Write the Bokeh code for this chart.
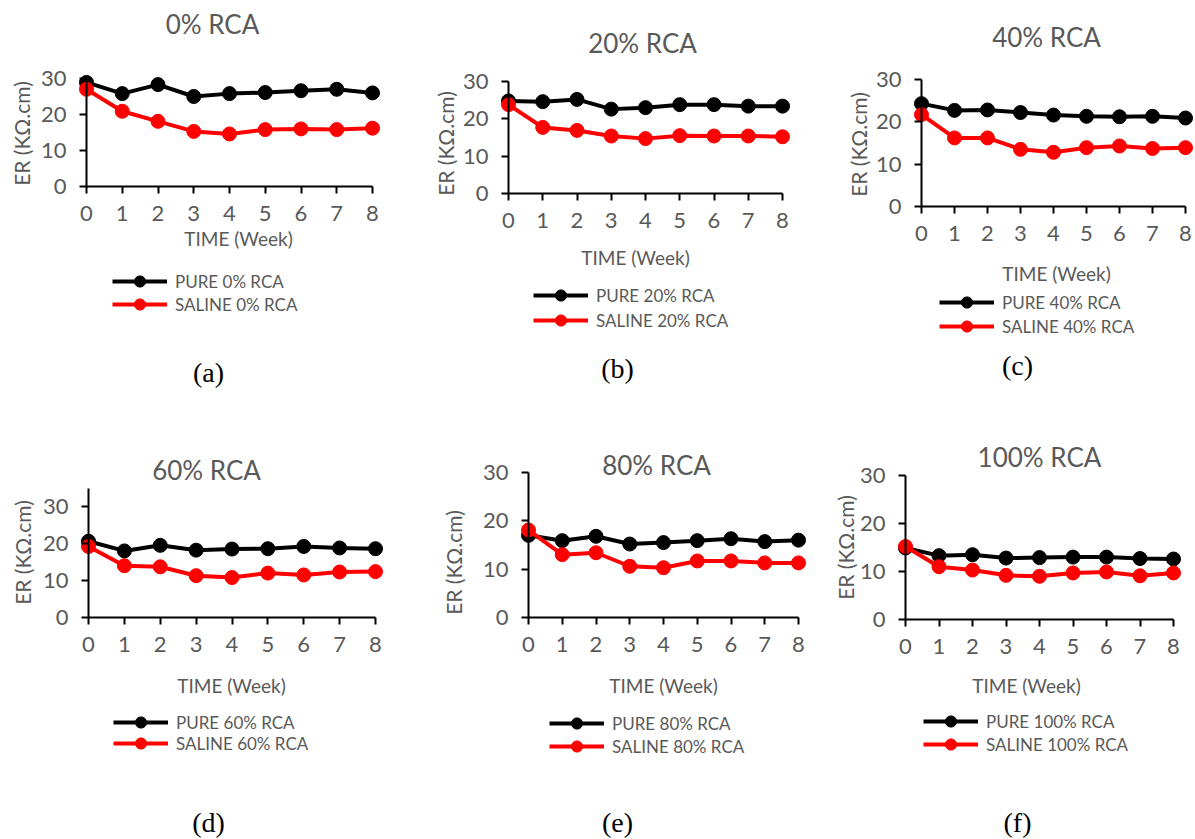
import math
from bokeh.plotting import figure
from bokeh.models import Range1d, FixedTicker, Label, Legend, LegendItem, LinearAxis
from bokeh.layouts import column, row
from bokeh.embed import file_html
from bokeh.resources import INLINE

# ---------------- data ----------------
weeks = [0, 1, 2, 3, 4, 5, 6, 7, 8]
y_ticks = [0, 10, 20, 30]
panel_titles = ["0% RCA", "20% RCA", "40% RCA", "60% RCA", "80% RCA", "100% RCA"]
captions = ["(a)", "(b)", "(c)", "(d)", "(e)", "(f)"]
legend_pure = ["PURE 0% RCA", "PURE 20% RCA", "PURE 40% RCA", "PURE 60% RCA", "PURE 80% RCA", "PURE 100% RCA"]
legend_saline = ["SALINE 0% RCA", "SALINE 20% RCA", "SALINE 40% RCA", "SALINE 60% RCA", "SALINE 80% RCA", "SALINE 100% RCA"]
x_title = "TIME (Week)"
y_title = "ER (KΩ.cm)"

pure_0 = [28.9, 25.8, 28.3, 25.0, 25.8, 26.1, 26.6, 27.0, 26.0]
saline_0 = [27.0, 20.9, 18.1, 15.3, 14.6, 15.8, 16.0, 15.8, 16.2]
pure_20 = [24.8, 24.6, 25.2, 22.6, 23.0, 23.8, 23.8, 23.4, 23.4]
saline_20 = [23.8, 17.7, 16.9, 15.4, 14.7, 15.5, 15.4, 15.4, 15.2]
pure_40 = [24.3, 22.7, 22.8, 22.2, 21.6, 21.3, 21.2, 21.3, 20.9]
saline_40 = [21.7, 16.2, 16.2, 13.5, 12.8, 13.9, 14.3, 13.7, 13.9]
pure_60 = [20.6, 18.0, 19.5, 18.2, 18.5, 18.6, 19.2, 18.8, 18.6]
saline_60 = [19.2, 14.0, 13.7, 11.3, 10.8, 12.0, 11.5, 12.3, 12.4]
pure_80 = [17.0, 15.9, 16.8, 15.2, 15.5, 15.9, 16.3, 15.7, 16.0]
saline_80 = [18.1, 13.0, 13.4, 10.6, 10.3, 11.7, 11.7, 11.3, 11.3]
pure_100 = [14.9, 13.3, 13.5, 12.8, 12.9, 13.0, 13.0, 12.7, 12.6]
saline_100 = [15.2, 11.0, 10.3, 9.2, 9.0, 9.7, 9.9, 9.1, 9.7]

pure_series = [pure_0, pure_20, pure_40, pure_60, pure_80, pure_100]
saline_series = [saline_0, saline_20, saline_40, saline_60, saline_80, saline_100]
y_axis_max = [30, 30, 30, 35, 30, 30]

# ---------------- layout (page pixel positions) ----------------
SANS = "Lato"
SERIF = "Liberation Serif"
GREY = "#595959"

COL_X = [0, 410, 820]
COL_W = [410, 410, 374]
ROW_Y = [0, 420]
ROW_H = [420, 418]

GEOM = [
    dict(X0=86, X8=372, Y0=186, Y30=78, title=(212, 23), ylab=(21, 133),
         time=(238, 238), leg=(112, 281, 304), cap=(208, 372)),
    dict(X0=508, X8=782, Y0=193, Y30=81, title=(642, 42), ylab=(445, 143),
         time=(635, 257), leg=(533, 295, 320), cap=(617, 368)),
    dict(X0=921, X8=1185, Y0=206, Y30=79, title=(1046, 36), ylab=(858, 144),
         time=(1056, 273), leg=(939, 302, 326), cap=(1017, 365)),
    dict(X0=88, X8=375, Y0=617, Y30=506, title=(206, 469), ylab=(22, 552),
         time=(231, 685), leg=(113, 722, 743), cap=(208, 822)),
    dict(X0=528, X8=798, Y0=617, Y30=472, title=(656, 464), ylab=(453, 562),
         time=(663, 685), leg=(549, 723, 746), cap=(617, 822)),
    dict(X0=905, X8=1173, Y0=619, Y30=475, title=(1039, 456), ylab=(845, 547),
         time=(1026, 685), leg=(923, 721, 744), cap=(1017, 822)),
]

LEG_H = 28


def make_panel(i):
    g = GEOM[i]
    c, r = i % 3, i // 3
    cx, cw, ry, rh = COL_X[c], COL_W[c], ROW_Y[r], ROW_H[r]
    ppx = (g["X8"] - g["X0"]) / 8.0
    ppy = (g["Y0"] - g["Y30"]) / 30.0
    x0 = -(g["X0"] - cx) / ppx
    x1 = 8 + (cx + cw - g["X8"]) / ppx
    y0 = -(ry + rh - g["Y0"]) / ppy
    y1 = (g["Y0"] - ry) / ppy

    p = figure(width=cw, height=rh, output_backend="svg", toolbar_location=None,
               x_range=Range1d(x0, x1), y_range=Range1d(y0, y1),
               x_axis_location=None, y_axis_location=None,
               min_border_left=0, min_border_right=0, min_border_top=0, min_border_bottom=0)
    p.outline_line_color = None
    p.xgrid.visible = False
    p.ygrid.visible = False
    p.background_fill_color = "white"
    p.border_fill_color = "white"

    xa = LinearAxis(ticker=FixedTicker(ticks=weeks), bounds=(0, 8), fixed_location=0,
                    major_label_standoff=12)
    ya = LinearAxis(ticker=FixedTicker(ticks=y_ticks), bounds=(0, y_axis_max[i]), fixed_location=0,
                    major_label_standoff=13)
    for ax in (xa, ya):
        ax.axis_line_color = "black"
        ax.axis_line_width = 2
        ax.major_tick_line_color = "black"
        ax.major_tick_line_width = 2
        ax.major_tick_in = 0
        ax.major_tick_out = 7
        ax.minor_tick_line_color = None
        ax.major_label_text_font = SANS
        ax.major_label_text_font_size = "22px"
        ax.major_label_text_color = GREY
    p.add_layout(xa, "below")
    p.add_layout(ya, "left")

    lp = p.line(weeks, pure_series[i], line_color="black", line_width=4)
    sp = p.scatter(weeks, pure_series[i], marker="circle", size=14, fill_color="black", line_color="black")
    ls = p.line(weeks, saline_series[i], line_color="red", line_width=4)
    ss = p.scatter(weeks, saline_series[i], marker="circle", size=14, fill_color="red", line_color="red")

    left, bottom = cx, ry + rh

    def lab(text, pos, size, font=SANS, color=GREY, angle=0.0):
        p.add_layout(Label(x=pos[0] - left, y=bottom - pos[1], x_units="screen", y_units="screen",
                           text=text, text_font=font, text_font_size=size, text_color=color,
                           text_align="center", text_baseline="middle", angle=angle))

    lab(panel_titles[i], g["title"], "26px")
    lab(y_title, g["ylab"], "21px", angle=math.pi / 2)
    lab(x_title, g["time"], "19px")
    lab(captions[i], g["cap"], "28px", font=SERIF, color="black")

    lx, ly1, ly2 = g["leg"]
    for label, rends, ly in ((legend_pure[i], [lp, sp], ly1), (legend_saline[i], [ls, ss], ly2)):
        leg = Legend(items=[LegendItem(label=label, renderers=rends)],
                     location=(lx - left, bottom - ly - LEG_H / 2.0),
                     padding=0, margin=0, spacing=0, glyph_width=55, glyph_height=LEG_H,
                     label_height=LEG_H, label_standoff=8,
                     label_text_font=SANS, label_text_font_size="17px", label_text_color=GREY,
                     border_line_color=None, background_fill_alpha=0)
        p.add_layout(leg)
    return p


panels = [make_panel(i) for i in range(6)]
layout = column(row(*panels[:3], spacing=0), row(*panels[3:], spacing=0), spacing=0)

open("out.html", "w").write(file_html(layout, INLINE))
